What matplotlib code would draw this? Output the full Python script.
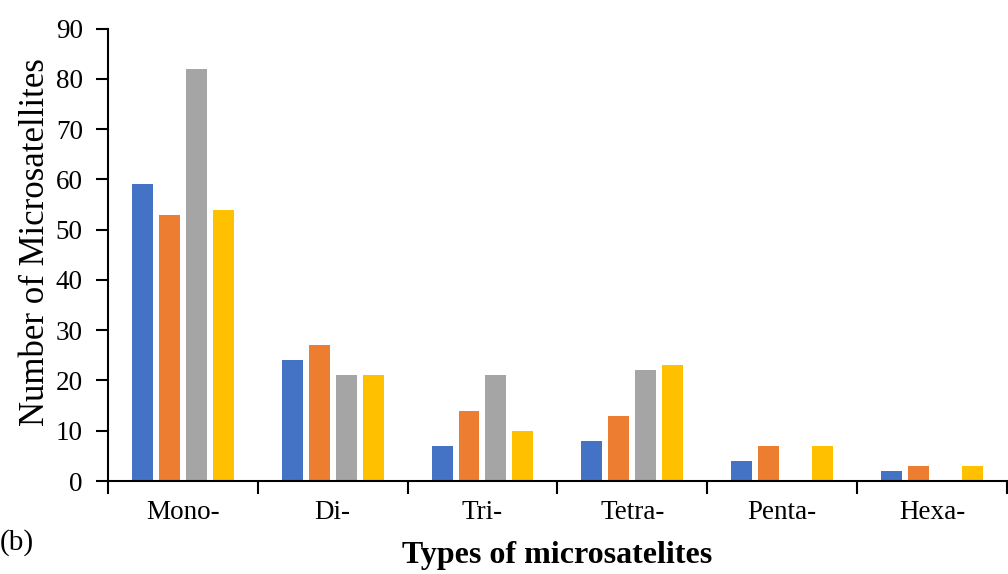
import numpy as np
import matplotlib.pyplot as plt

# ------------------------
# Data
# ------------------------
categories = ["Mono-", "Di-", "Tri-", "Tetra-", "Penta-", "Hexa-"]
series_1 = [59, 24, 7, 8, 4, 2]
series_2 = [53, 27, 14, 13, 7, 3]
series_3 = [82, 21, 21, 22, 0, 0]
series_4 = [54, 21, 10, 23, 7, 3]

colors = ["#4472C4", "#ED7D31", "#A5A5A5", "#FFC000"]

plt.rcParams["font.family"] = ["Liberation Serif", "DejaVu Serif"]

# ------------------------
# Plot
# ------------------------
fig = plt.figure(figsize=(10.08, 5.74), dpi=100)
ax = fig.add_axes([0.107, 0.162, 0.892, 0.788])

x = np.arange(len(categories))
step = 0.18
width = 0.14
for i, (vals, c) in enumerate(zip([series_1, series_2, series_3, series_4], colors)):
    ax.bar(x + (i - 1.5) * step, vals, width=width, color=c, zorder=2)

ax.set_xlim(-0.5, len(categories) - 0.5)
ax.set_ylim(0, 90)
ax.set_yticks(np.arange(0, 91, 10))
ax.tick_params(axis="y", labelsize=19.5, length=9, width=1.5, pad=9)

# category boundaries get the tick marks, labels sit at the centres
ax.set_xticks(np.arange(-0.5, len(categories), 1.0))
ax.set_xticklabels([])
ax.set_xticks(x, minor=True)
ax.set_xticklabels(categories, minor=True)
ax.tick_params(axis="x", which="major", length=9, width=1.5)
ax.tick_params(axis="x", which="minor", length=0, labelsize=19.5, pad=14)

for s in ["top", "right"]:
    ax.spines[s].set_visible(False)
for s in ["left", "bottom"]:
    ax.spines[s].set_linewidth(1.5)

ax.set_ylabel("Number of Microsatellites", fontsize=25)
ax.yaxis.set_label_coords(-0.062, 0.528)
ax.set_xlabel("Types of microsatelites", fontsize=23, fontweight="bold", labelpad=11)
fig.text(0.0, 0.054, "(b)", fontsize=21, ha="left", va="center")

plt.savefig("out.png", dpi=100)
